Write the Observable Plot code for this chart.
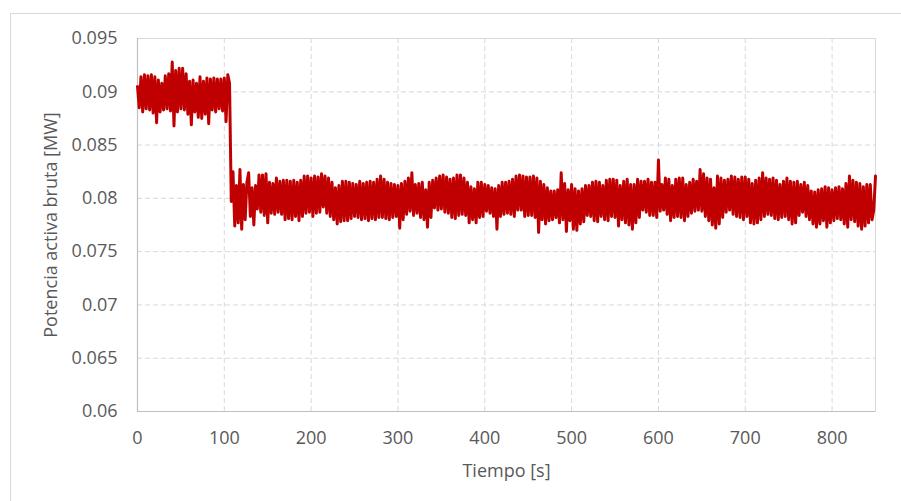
<!DOCTYPE html>
<html><head><meta charset="utf-8">
<script src="https://cdn.jsdelivr.net/npm/d3@7"></script>
<script src="https://cdn.jsdelivr.net/npm/@observablehq/plot@0.6"></script>
<style>
html,body{margin:0;padding:0;background:#fff;width:901px;height:501px;overflow:hidden;}
#wrap{position:relative;width:901px;height:501px;}
#border{position:absolute;left:10px;top:13px;width:1000px;height:1000px;border:1px solid #d9d9d9;box-sizing:border-box;}
#chart{position:absolute;left:0;top:0;}
</style></head><body><div id="wrap"><div id="border"></div><div id="chart"></div></div>
<script>
// Sampling interval of the series (s)
const SAMPLE_STEP = 2;
// Segment start times (s)
const segStarts = [0, 108, 166, 332, 498, 666];
// Potencia activa bruta [MW]
const segPreStep = [0.0905,0.0885,0.0914,0.0881,0.0916,0.0884,0.0915,0.0883,0.0916,0.0880,
0.0914,0.0871,0.0911,0.0881,0.0908,0.0883,0.0915,0.0884,0.0917,0.0882,
0.0928,0.0868,0.0920,0.0881,0.0922,0.0884,0.0922,0.0883,0.0917,0.0879,
0.0910,0.0869,0.0911,0.0881,0.0908,0.0876,0.0914,0.0875,0.0910,0.0879,
0.0913,0.0870,0.0912,0.0883,0.0913,0.0881,0.0912,0.0884,0.0912,0.0882,
0.0913,0.0872,0.0916,0.0908];
const segDrop = [0.0797,0.0825,0.0774,0.0812,0.0777,0.0827,0.0771,0.0813,0.0780,0.0815,
0.0824,0.0783,0.0810,0.0775,0.0812,0.0790,0.0822,0.0787,0.0822,0.0784,
0.0823,0.0777,0.0815,0.0786,0.0814,0.0785,0.0819,0.0787,0.0816];
const segC = [0.0785,0.0817,0.0780,0.0817,0.0781,0.0816,0.0780,0.0817,0.0783,0.0815,
0.0779,0.0817,0.0783,0.0821,0.0786,0.0821,0.0787,0.0819,0.0783,0.0821,
0.0786,0.0820,0.0787,0.0823,0.0792,0.0821,0.0786,0.0819,0.0783,0.0815,
0.0780,0.0810,0.0776,0.0812,0.0778,0.0816,0.0779,0.0816,0.0779,0.0815,
0.0781,0.0814,0.0783,0.0813,0.0782,0.0816,0.0780,0.0814,0.0781,0.0815,
0.0779,0.0816,0.0781,0.0815,0.0780,0.0818,0.0782,0.0821,0.0782,0.0818,
0.0781,0.0815,0.0780,0.0814,0.0782,0.0813,0.0783,0.0812,0.0772,0.0814,
0.0780,0.0816,0.0785,0.0819,0.0788,0.0824,0.0784,0.0813,0.0786,0.0814,
0.0782,0.0815,0.0780];
const segD = [0.0808,0.0773,0.0815,0.0782,0.0817,0.0791,0.0819,0.0789,0.0821,0.0790,
0.0822,0.0787,0.0820,0.0786,0.0818,0.0782,0.0819,0.0781,0.0822,0.0784,
0.0822,0.0785,0.0819,0.0784,0.0815,0.0777,0.0811,0.0780,0.0809,0.0777,
0.0815,0.0782,0.0815,0.0783,0.0813,0.0788,0.0812,0.0786,0.0810,0.0783,
0.0809,0.0771,0.0812,0.0783,0.0815,0.0785,0.0815,0.0786,0.0816,0.0785,
0.0818,0.0783,0.0821,0.0789,0.0822,0.0789,0.0821,0.0783,0.0820,0.0784,
0.0820,0.0784,0.0821,0.0782,0.0819,0.0768,0.0816,0.0780,0.0813,0.0776,
0.0810,0.0779,0.0807,0.0780,0.0807,0.0782,0.0808,0.0777,0.0824,0.0780,
0.0814,0.0769,0.0808];
const segE = [0.0779,0.0813,0.0771,0.0809,0.0770,0.0807,0.0776,0.0809,0.0778,0.0812,
0.0784,0.0812,0.0783,0.0815,0.0779,0.0816,0.0778,0.0815,0.0783,0.0812,
0.0780,0.0817,0.0779,0.0818,0.0783,0.0818,0.0782,0.0817,0.0774,0.0812,
0.0780,0.0816,0.0777,0.0818,0.0775,0.0813,0.0771,0.0813,0.0777,0.0818,
0.0782,0.0816,0.0789,0.0816,0.0787,0.0818,0.0784,0.0815,0.0784,0.0815,
0.0782,0.0836,0.0788,0.0813,0.0789,0.0819,0.0785,0.0818,0.0779,0.0812,
0.0782,0.0818,0.0783,0.0819,0.0782,0.0819,0.0779,0.0813,0.0783,0.0815,
0.0786,0.0818,0.0788,0.0816,0.0789,0.0827,0.0788,0.0823,0.0783,0.0819,
0.0779,0.0818,0.0775,0.0810];
const segF = [0.0772,0.0821,0.0776,0.0819,0.0782,0.0817,0.0787,0.0818,0.0789,0.0821,
0.0785,0.0820,0.0783,0.0818,0.0782,0.0820,0.0780,0.0820,0.0783,0.0818,
0.0777,0.0814,0.0776,0.0817,0.0777,0.0819,0.0780,0.0824,0.0783,0.0819,
0.0785,0.0818,0.0784,0.0819,0.0781,0.0817,0.0780,0.0813,0.0782,0.0816,
0.0783,0.0819,0.0780,0.0816,0.0776,0.0815,0.0777,0.0816,0.0784,0.0813,
0.0787,0.0815,0.0783,0.0812,0.0780,0.0807,0.0776,0.0806,0.0773,0.0808,
0.0776,0.0809,0.0779,0.0811,0.0773,0.0810,0.0777,0.0808,0.0779,0.0810,
0.0781,0.0811,0.0780,0.0809,0.0776,0.0814,0.0773,0.0821,0.0780,0.0817,
0.0778,0.0815,0.0774,0.0814,0.0771,0.0811,0.0774,0.0813,0.0777,0.0813,
0.0780,0.0789,0.0821];

const xTicks = [0, 100, 200, 300, 400, 500, 600, 700, 800];
const yTicks = [0.06, 0.065, 0.07, 0.075, 0.08, 0.085, 0.09, 0.095];
const xLabel = "Tiempo [s]";
const yLabel = "Potencia activa bruta [MW]";

const segments = [segPreStep, segDrop, segC, segD, segE, segF];
const data = [];
segments.forEach((seg, k) => seg.forEach((p, i) => data.push({t: segStarts[k] + i * SAMPLE_STEP, p})));

const grid = {stroke: "#d9d9d9", strokeOpacity: 1, strokeWidth: 1, strokeDasharray: "5,3"};
const textColor = "#595959";

const chart = Plot.plot({
  width: 901, height: 501,
  marginLeft: 137, marginRight: 26, marginTop: 38, marginBottom: 90,
  style: {fontFamily: "'Open Sans', sans-serif", fontSize: "18px", color: textColor, background: "transparent", overflow: "visible"},
  x: {domain: [0, 850], ticks: xTicks, tickSize: 0, tickPadding: 20, label: null},
  y: {domain: [0.06, 0.095], ticks: yTicks, tickSize: 0, tickPadding: 20, label: null, tickFormat: d => String(d)},
  marks: [
    Plot.ruleX(xTicks.filter(d => d > 0), grid),
    Plot.ruleY(yTicks.filter(d => d > 0.06 && d < 0.095), grid),
    Plot.frame({stroke: "#d9d9d9", strokeWidth: 1}),
    Plot.ruleX([0], {stroke: "#bfbfbf", strokeWidth: 1.2}),
    Plot.ruleY([0.06], {stroke: "#bfbfbf", strokeWidth: 1.2}),
    Plot.line(data, {x: "t", y: "p", stroke: "#c00000", strokeWidth: 3, strokeLinejoin: "round", strokeLinecap: "round"}),
    Plot.text([xLabel], {text: d => d, frameAnchor: "bottom", textAnchor: "middle", lineAnchor: "middle", dy: 60, fill: textColor, fontSize: 18}),
    Plot.text([yLabel], {text: d => d, frameAnchor: "left", textAnchor: "middle", lineAnchor: "middle", rotate: -90, dx: -86, fill: textColor, fontSize: 18})
  ]
});
document.getElementById("chart").appendChild(chart);
</script>
</body></html>
